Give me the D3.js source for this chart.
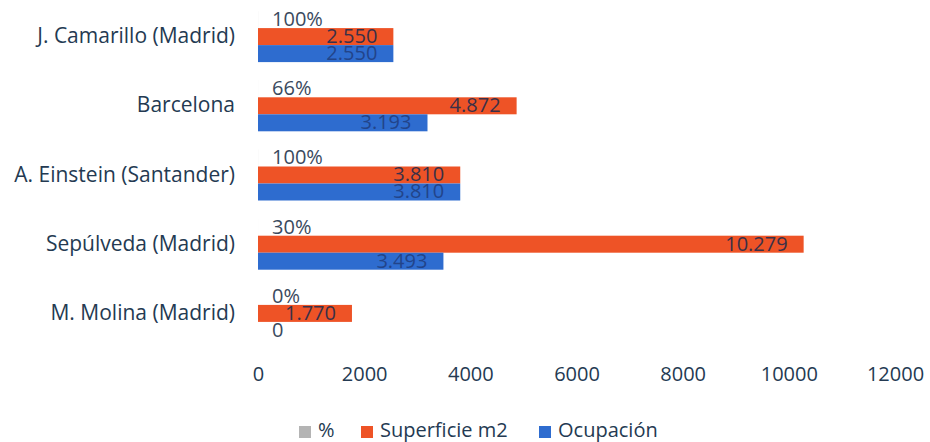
<!DOCTYPE html>
<html><head><meta charset="utf-8">
<script src="https://cdn.jsdelivr.net/npm/d3@7"></script>
<style>
html,body{margin:0;padding:0;background:#fff;}
svg text{font-family:"Open Sans",sans-serif;}
</style></head>
<body><svg id="c" width="930" height="442"></svg>
<script>
const categories = ["J. Camarillo (Madrid)", "Barcelona", "A. Einstein (Santander)", "Sepúlveda (Madrid)", "M. Molina (Madrid)"];
const series = ["%", "Superficie m2", "Ocupación"];
const pctValues = [1.00, 0.66, 1.00, 0.30, 0.00];
const pctLabels = ["100%", "66%", "100%", "30%", "0%"];
const superficieValues = [2550, 4872, 3810, 10279, 1770];
const ocupacionValues = [2550, 3193, 3810, 3493, 0];
const xTicks = [0, 2000, 4000, 6000, 8000, 10000, 12000];
const colors = {"%": "#b4b4b4", "Superficie m2": "#ee5326", "Ocupación": "#2e6ccf"};

const svg = d3.select("#c");
const x = d3.scaleLinear().domain([0, 12000]).range([258, 895]);
const y = d3.scaleBand().domain(categories).range([2, 348]).paddingInner(0.263).paddingOuter(0.1315);
const yi = d3.scaleBand().domain(series).range([0, y.bandwidth()]);

const fmt = v => d3.format(",")(v).replace(/,/g, ".");

const rows = categories.map((c, i) => ({c, i}));
const dataFor = s => rows.map(r => ({
  c: r.c,
  v: s === "%" ? pctValues[r.i] : s === "Superficie m2" ? superficieValues[r.i] : ocupacionValues[r.i],
  label: s === "%" ? pctLabels[r.i] : fmt(s === "Superficie m2" ? superficieValues[r.i] : ocupacionValues[r.i])
}));

// bars
series.forEach(s => {
  svg.append("g").selectAll("rect").data(dataFor(s)).join("rect")
    .attr("x", x(0))
    .attr("y", d => y(d.c) + yi(s))
    .attr("width", d => Math.max(0, x(d.v) - x(0)))
    .attr("height", yi.bandwidth())
    .attr("fill", colors[s]);
});

// labels
series.forEach(s => {
  svg.append("g").selectAll("text").data(dataFor(s)).join("text")
    .attr("x", d => {
      const w = x(d.v) - x(0);
      return (s === "%" || w < 60) ? x(d.v) + 14 : x(d.v) - 16;
    })
    .attr("y", d => y(d.c) + yi(s) + yi.bandwidth() / 2 + 1)
    .attr("text-anchor", d => (s === "%" || x(d.v) - x(0) < 60) ? "start" : "end")
    .attr("dominant-baseline", "middle")
    .attr("font-size", 20)
    .attr("fill", d => {
      const inside = s !== "%" && x(d.v) - x(0) >= 60;
      if (!inside) return "#3a4a5e";
      return s === "Ocupación" ? "#22448a" : "#3a3048";
    })
    .text(d => d.label);
});

// category axis labels
svg.append("g").selectAll("text").data(categories).join("text")
  .attr("x", 235)
  .attr("y", d => y(d) + y.bandwidth() / 2 + 1)
  .attr("text-anchor", "end")
  .attr("dominant-baseline", "middle")
  .attr("font-size", 21)
  .attr("fill", "#243a52")
  .text(d => d);

// x axis
const xa = svg.append("g").attr("transform", "translate(0,367)")
  .call(d3.axisBottom(x).tickValues(xTicks).tickFormat(d3.format("d")).tickSize(0).tickPadding(0));
xa.select(".domain").remove();
xa.selectAll("text").attr("font-size", 20).attr("fill", "#243a52").attr("font-family", "Open Sans, sans-serif").attr("dy", "0.71em");

// legend
const legX = [299, 361, 539];
const leg = svg.append("g").selectAll("g").data(series).join("g")
  .attr("transform", (d, i) => `translate(${legX[i]},432)`);
leg.append("rect").attr("x", 0).attr("y", -6).attr("width", 12).attr("height", 12).attr("fill", d => colors[d]);
leg.append("text").attr("x", 19).attr("y", 0).attr("dominant-baseline", "middle")
  .attr("font-size", 20).attr("fill", "#243a52").text(d => d);
</script></body></html>
